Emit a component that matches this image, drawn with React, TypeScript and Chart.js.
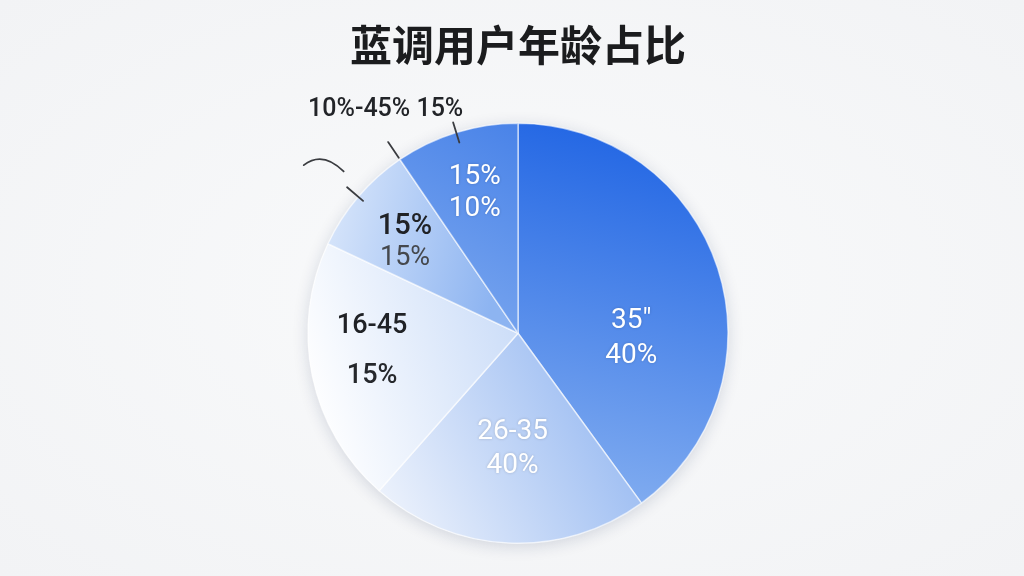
import Chart from "chart.js/auto";
import { useEffect, useRef } from "react";

const title = "蓝调用户年龄占比";
const sliceNames = ["35″", "26-35", "16-45", "15%", "15%"];
const sliceShares = ["40%", "40%", "15%", "15%", "10%"];
const values = [40, 21.5, 20.5, 8.5, 9.5];
const calloutText = "10%-45% 15%";

// gradient stops per slice: [from colour, to colour]
const sliceColors = [
  ["#2266e4", "#8ab3f1"],
  ["#8cb2f0", "#eef3fc"],
  ["#cadcf8", "#ffffff"],
  ["#8db4f1", "#dde9fb"],
  ["#4882e8", "#7ca8ef"],
];

function sliceGradient(ctx: CanvasRenderingContext2D, index: number, cx: number, cy: number, r: number) {
  // direction of each slice's gradient, relative to the pie
  const dirs = [
    [0.35, -1, -0.1, 0.85],
    [0.7, 0.3, -0.6, 0.95],
    [0.05, 0, -1, 0.3],
    [-0.1, -0.25, -1, -0.45],
    [0.05, -1, -0.5, -0.05],
  ][index];
  const g = ctx.createLinearGradient(
    cx + dirs[0] * r,
    cy + dirs[1] * r,
    cx + dirs[2] * r,
    cy + dirs[3] * r,
  );
  g.addColorStop(0, sliceColors[index][0]);
  g.addColorStop(1, sliceColors[index][1]);
  return g;
}

export default function App() {
  const canvasRef = useRef<HTMLCanvasElement | null>(null);
  const chartRef = useRef<Chart | null>(null);

  useEffect(() => {
    document.body.style.margin = "0";
    if (!canvasRef.current) {
      return;
    }
    if (chartRef.current) {
      chartRef.current.destroy();
    }

    const shadowPlugin = {
      id: "pieShadow",
      beforeDatasetsDraw: (chart: Chart) => {
        const arc: any = chart.getDatasetMeta(0).data[0];
        if (!arc) return;
        const { x, y, outerRadius } = arc.getProps(["x", "y", "outerRadius"], true);
        const ctx = chart.ctx;
        ctx.save();
        ctx.shadowColor = "rgba(20,40,80,0.16)";
        ctx.shadowBlur = 16;
        ctx.shadowOffsetY = 3;
        ctx.fillStyle = "#ffffff";
        ctx.beginPath();
        ctx.arc(x, y, outerRadius, 0, Math.PI * 2);
        ctx.fill();
        ctx.restore();
      },
    };

    const labelPlugin = {
      id: "sliceLabels",
      afterDatasetsDraw: (chart: Chart) => {
        const ctx = chart.ctx;
        const arcs: any[] = chart.getDatasetMeta(0).data as any[];
        const radiusFactor = [0.54, 0.55, 0.7, 0.69, 0.7];
        const angleShift = [0.36, 0, 0.08, -0.03, 0];
        const gaps = [35, 34, 50, 31, 32];
        const dark = [false, false, true, true, false];
        const font = "Roboto, 'Noto Sans', sans-serif";

        ctx.save();
        ctx.textAlign = "center";
        ctx.textBaseline = "middle";
        arcs.forEach((arc, i) => {
          const p = arc.getProps(["x", "y", "startAngle", "endAngle", "outerRadius"], true);
          const a = (p.startAngle + p.endAngle) / 2 + angleShift[i];
          const r = p.outerRadius * radiusFactor[i];
          const lx = p.x + Math.cos(a) * r;
          const ly = p.y + Math.sin(a) * r;
          if (dark[i]) {
            ctx.shadowColor = "transparent";
            ctx.fillStyle = "#202226";
            ctx.font = `500 ${i === 3 ? 29 : 27}px ${font}`;
            ctx.fillText(sliceNames[i], lx, ly - gaps[i] / 2);
            ctx.fillStyle = i === 3 ? "#45484d" : "#26282c";
            ctx.font = `${i === 3 ? 400 : 500} 27px ${font}`;
            ctx.fillText(sliceShares[i], lx, ly + gaps[i] / 2);
          } else {
            ctx.shadowColor = "rgba(0,0,0,0.18)";
            ctx.shadowBlur = 3;
            ctx.fillStyle = "#ffffff";
            ctx.font = `400 28px ${font}`;
            ctx.fillText(sliceNames[i], lx, ly - gaps[i] / 2);
            ctx.fillText(sliceShares[i], lx, ly + gaps[i] / 2);
          }
        });
        ctx.restore();

        // callout text and leader strokes on the upper left
        const a3 = arcs[3]?.getProps(["x", "y", "startAngle", "endAngle", "outerRadius"], true);
        const a4 = arcs[4]?.getProps(["x", "y", "startAngle", "endAngle", "outerRadius"], true);
        if (!a3 || !a4) return;
        const { x: cx, y: cy, outerRadius: R } = a4;
        const tick = (ang: number, r0: number, r1: number) => {
          ctx.beginPath();
          ctx.moveTo(cx + Math.cos(ang) * R * r0, cy + Math.sin(ang) * R * r0);
          ctx.lineTo(cx + Math.cos(ang) * R * r1, cy + Math.sin(ang) * R * r1);
          ctx.stroke();
        };
        ctx.save();
        ctx.strokeStyle = "#3a3c40";
        ctx.lineWidth = 1.8;
        ctx.lineCap = "round";
        tick((a4.startAngle + a4.endAngle) / 2, 0.95, 1.05);
        tick(a4.startAngle, 1.01, 1.1);
        tick((a3.startAngle + a3.endAngle) / 2, 0.97, 1.07);
        ctx.beginPath();
        ctx.moveTo(cx - R * 1.02, cy - R * 0.8);
        ctx.quadraticCurveTo(cx - R * 0.93, cy - R * 0.87, cx - R * 0.83, cy - R * 0.77);
        ctx.stroke();

        ctx.fillStyle = "#222428";
        ctx.font = "500 25px Roboto, 'Noto Sans', sans-serif";
        ctx.textAlign = "center";
        ctx.textBaseline = "middle";
        ctx.fillText(calloutText, cx - R * 0.63, cy - R * 1.065);
        ctx.restore();
      },
    };

    chartRef.current = new Chart(canvasRef.current, {
      type: "pie",
      data: {
        labels: sliceNames,
        datasets: [
          {
            data: values,
            backgroundColor: (context: any) => {
              const chart = context.chart;
              const area = chart.chartArea;
              if (!area) return sliceColors[context.dataIndex][0];
              const cx = (area.left + area.right) / 2;
              const cy = (area.top + area.bottom) / 2;
              const r = Math.min(area.width, area.height) / 2;
              return sliceGradient(chart.ctx, context.dataIndex, cx, cy, r);
            },
            borderColor: "rgba(255,255,255,0.6)",
            borderWidth: 1.5,
          },
        ],
      },
      plugins: [shadowPlugin, labelPlugin],
      options: {
        animation: false,
        responsive: true,
        maintainAspectRatio: false,
        layout: { padding: { left: 304, right: 292, top: 0, bottom: 32 } },
        plugins: {
          legend: { display: false },
          tooltip: { enabled: false },
          title: {
            display: true,
            text: title,
            color: "#1b1c1e",
            font: { family: "'Noto Sans CJK SC', sans-serif", size: 42, weight: "bold" },
            padding: { top: 20, bottom: 52 },
          },
        },
      } as any,
    });

    return () => {
      chartRef.current?.destroy();
    };
  }, []);

  return (
    <div
      style={{
        width: 1024,
        height: 576,
        position: "relative",
        background: "radial-gradient(ellipse at center, #f9fafb 0%, #f2f3f5 100%)",
      }}
    >
      <canvas ref={canvasRef} />
    </div>
  );
}
